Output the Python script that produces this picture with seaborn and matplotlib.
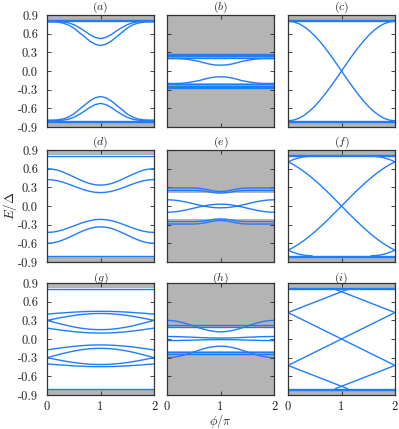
import matplotlib
matplotlib.use("Agg")
import matplotlib.pyplot as plt
import seaborn as sns
import numpy as np
import pandas as pd

# ---------------- data ----------------
phi = [0.0, 0.1, 0.2, 0.3, 0.4, 0.5, 0.6, 0.7, 0.8, 0.9, 1.0,
       1.1, 1.2, 1.3, 1.4, 1.5, 1.6, 1.7, 1.8, 1.9, 2.0]

yticks = [-0.9, -0.6, -0.3, 0.0, 0.3, 0.6, 0.9]
yticklabels = ["-0.9", "-0.6", "-0.3", "0.0", "0.3", "0.6", "0.9"]
xticks = [0, 1, 2]
xticklabels = ["0", "1", "2"]
panel_labels = ["a", "b", "c", "d", "e", "f", "g", "h", "i"]
gaps = [0.82, 0.195, 0.82, 0.815, 0.21, 0.82, 0.815, 0.20, 0.82]

# (a)
a_levels = [0.80, 0.815, -0.80, -0.815]
a_up_deep = [0.79, 0.79, 0.785, 0.77, 0.74, 0.69, 0.62, 0.55, 0.48, 0.43, 0.41,
             0.43, 0.48, 0.55, 0.62, 0.69, 0.74, 0.77, 0.785, 0.79, 0.79]
a_up_shal = [0.795, 0.795, 0.795, 0.79, 0.775, 0.745, 0.70, 0.645, 0.585, 0.54, 0.52,
             0.54, 0.585, 0.645, 0.70, 0.745, 0.775, 0.79, 0.795, 0.795, 0.795]
a_dn_deep = [-0.79, -0.79, -0.785, -0.77, -0.74, -0.69, -0.62, -0.55, -0.48, -0.43, -0.41,
             -0.43, -0.48, -0.55, -0.62, -0.69, -0.74, -0.77, -0.785, -0.79, -0.79]
a_dn_shal = [-0.795, -0.795, -0.795, -0.79, -0.775, -0.745, -0.70, -0.645, -0.585, -0.54, -0.52,
             -0.54, -0.585, -0.645, -0.70, -0.745, -0.775, -0.79, -0.795, -0.795, -0.795]

# (b)
b_levels = [0.27, 0.255, 0.235, 0.215, -0.27, -0.255, -0.235, -0.215]
b_up_dip = [0.20, 0.20, 0.20, 0.195, 0.185, 0.17, 0.155, 0.13, 0.11, 0.097, 0.093,
            0.097, 0.11, 0.13, 0.155, 0.17, 0.185, 0.195, 0.20, 0.20, 0.20]
b_dn_dip = [-0.20, -0.20, -0.20, -0.195, -0.185, -0.17, -0.155, -0.13, -0.11, -0.097, -0.093,
            -0.097, -0.11, -0.13, -0.155, -0.17, -0.185, -0.195, -0.20, -0.20, -0.20]

# (c)
c_levels = [0.80, 0.815, -0.80, -0.815]
c_cross1 = [0.80, 0.79, 0.761, 0.713, 0.647, 0.566, 0.47, 0.363, 0.247, 0.125, 0.0,
            -0.125, -0.247, -0.363, -0.47, -0.566, -0.647, -0.713, -0.761, -0.79, -0.80]
c_cross2 = [-0.80, -0.79, -0.761, -0.713, -0.647, -0.566, -0.47, -0.363, -0.247, -0.125, 0.0,
            0.125, 0.247, 0.363, 0.47, 0.566, 0.647, 0.713, 0.761, 0.79, 0.80]

# (d)
d_levels = [0.81, -0.81]
d_up_out = [0.60, 0.593, 0.575, 0.545, 0.508, 0.468, 0.427, 0.39, 0.36, 0.341, 0.335,
            0.341, 0.36, 0.39, 0.427, 0.468, 0.508, 0.545, 0.575, 0.593, 0.60]
d_up_in = [0.425, 0.42, 0.405, 0.382, 0.352, 0.32, 0.288, 0.258, 0.235, 0.22, 0.215,
           0.22, 0.235, 0.258, 0.288, 0.32, 0.352, 0.382, 0.405, 0.42, 0.425]
d_dn_out = [-0.60, -0.593, -0.575, -0.545, -0.508, -0.468, -0.427, -0.39, -0.36, -0.341, -0.335,
            -0.341, -0.36, -0.39, -0.427, -0.468, -0.508, -0.545, -0.575, -0.593, -0.60]
d_dn_in = [-0.425, -0.42, -0.405, -0.382, -0.352, -0.32, -0.288, -0.258, -0.235, -0.22, -0.215,
           -0.22, -0.235, -0.258, -0.288, -0.32, -0.352, -0.382, -0.405, -0.42, -0.425]

# (e)
e_up1 = [0.29, 0.29, 0.29, 0.29, 0.29, 0.29, 0.285, 0.272, 0.255, 0.238, 0.232,
         0.238, 0.255, 0.272, 0.285, 0.29, 0.29, 0.29, 0.29, 0.29, 0.29]
e_up2 = [0.25, 0.25, 0.25, 0.25, 0.25, 0.25, 0.247, 0.24, 0.225, 0.212, 0.207,
         0.212, 0.225, 0.24, 0.247, 0.25, 0.25, 0.25, 0.25, 0.25, 0.25]
e_dn1 = [-0.29, -0.29, -0.29, -0.29, -0.29, -0.29, -0.285, -0.272, -0.255, -0.238, -0.232,
         -0.238, -0.255, -0.272, -0.285, -0.29, -0.29, -0.29, -0.29, -0.29, -0.29]
e_dn2 = [-0.25, -0.25, -0.25, -0.25, -0.25, -0.25, -0.247, -0.24, -0.225, -0.212, -0.207,
         -0.212, -0.225, -0.24, -0.247, -0.25, -0.25, -0.25, -0.25, -0.25, -0.25]
e_cross1 = [0.10, 0.097, 0.088, 0.073, 0.055, 0.035, 0.015, -0.003, -0.018, -0.027, -0.03,
            -0.027, -0.018, -0.003, 0.015, 0.035, 0.055, 0.073, 0.088, 0.097, 0.10]
e_cross2 = [-0.10, -0.097, -0.088, -0.073, -0.055, -0.035, -0.015, 0.003, 0.018, 0.027, 0.03,
            0.027, 0.018, 0.003, -0.015, -0.035, -0.055, -0.073, -0.088, -0.097, -0.10]

# (f)
f_levels = [0.80, 0.815, -0.80, -0.815]
f_cross1 = [0.71, 0.666, 0.613, 0.553, 0.487, 0.415, 0.338, 0.258, 0.173, 0.087, 0.0,
            -0.087, -0.173, -0.258, -0.338, -0.415, -0.487, -0.553, -0.613, -0.666, -0.71]
f_cross2 = [-0.71, -0.666, -0.613, -0.553, -0.487, -0.415, -0.338, -0.258, -0.173, -0.087, 0.0,
            0.087, 0.173, 0.258, 0.338, 0.415, 0.487, 0.553, 0.613, 0.666, 0.71]
f_arc_phi_l = [0.0, 0.1, 0.2, 0.3, 0.4, 0.45]
f_arc_phi_r = [2.0, 1.9, 1.8, 1.7, 1.6, 1.55]
f_arc_up = [0.71, 0.746, 0.773, 0.791, 0.799, 0.80]
f_arc_dn = [-0.71, -0.746, -0.773, -0.791, -0.799, -0.80]

# (g)
g_levels = [0.81, -0.81]
g_u1 = [0.40, 0.407, 0.414, 0.42, 0.426, 0.432, 0.436, 0.44, 0.443, 0.444, 0.445,
        0.444, 0.443, 0.44, 0.436, 0.432, 0.426, 0.42, 0.414, 0.407, 0.40]
g_u2 = [0.30, 0.317, 0.334, 0.35, 0.365, 0.378, 0.389, 0.398, 0.405, 0.409, 0.41,
        0.409, 0.405, 0.398, 0.389, 0.378, 0.365, 0.35, 0.334, 0.317, 0.30]
g_u3 = [0.30, 0.277, 0.254, 0.232, 0.212, 0.194, 0.179, 0.166, 0.157, 0.152, 0.15,
        0.152, 0.157, 0.166, 0.179, 0.194, 0.212, 0.232, 0.254, 0.277, 0.30]
g_u4 = [0.175, 0.163, 0.15, 0.139, 0.128, 0.118, 0.11, 0.104, 0.099, 0.096, 0.095,
        0.096, 0.099, 0.104, 0.11, 0.118, 0.128, 0.139, 0.15, 0.163, 0.175]
g_d1 = [-0.40, -0.407, -0.414, -0.42, -0.426, -0.432, -0.436, -0.44, -0.443, -0.444, -0.445,
        -0.444, -0.443, -0.44, -0.436, -0.432, -0.426, -0.42, -0.414, -0.407, -0.40]
g_d2 = [-0.30, -0.317, -0.334, -0.35, -0.365, -0.378, -0.389, -0.398, -0.405, -0.409, -0.41,
        -0.409, -0.405, -0.398, -0.389, -0.378, -0.365, -0.35, -0.334, -0.317, -0.30]
g_d3 = [-0.30, -0.277, -0.254, -0.232, -0.212, -0.194, -0.179, -0.166, -0.157, -0.152, -0.15,
        -0.152, -0.157, -0.166, -0.179, -0.194, -0.212, -0.232, -0.254, -0.277, -0.30]
g_d4 = [-0.175, -0.163, -0.15, -0.139, -0.128, -0.118, -0.11, -0.104, -0.099, -0.096, -0.095,
        -0.096, -0.099, -0.104, -0.11, -0.118, -0.128, -0.139, -0.15, -0.163, -0.175]

# (h)
h_levels = [0.23, 0.20, -0.21, -0.24]
h_dip = [0.30, 0.295, 0.282, 0.262, 0.236, 0.208, 0.179, 0.153, 0.133, 0.12, 0.115,
         0.12, 0.133, 0.153, 0.179, 0.208, 0.236, 0.262, 0.282, 0.295, 0.30]
h_rise = [-0.30, -0.295, -0.282, -0.262, -0.236, -0.208, -0.179, -0.153, -0.133, -0.12, -0.115,
          -0.12, -0.133, -0.153, -0.179, -0.208, -0.236, -0.262, -0.282, -0.295, -0.30]
h_mid1 = [0.04, 0.039, 0.038, 0.035, 0.031, 0.028, 0.024, 0.02, 0.017, 0.016, 0.015,
          0.016, 0.017, 0.02, 0.024, 0.028, 0.031, 0.035, 0.038, 0.039, 0.04]
h_mid2 = [-0.025, -0.025, -0.024, -0.022, -0.02, -0.018, -0.015, -0.013, -0.011, -0.01, -0.01,
          -0.01, -0.011, -0.013, -0.015, -0.018, -0.02, -0.022, -0.024, -0.025, -0.025]

# (i)
i_levels = [0.80, 0.815, -0.80, -0.815]
i_phi_l = [0.0, 0.2, 0.4, 0.6, 0.8, 1.0, 1.12]
i_phi_r = [2.0, 1.8, 1.6, 1.4, 1.2, 1.0, 0.88]
i_edge_up = [0.425, 0.492, 0.559, 0.626, 0.693, 0.76, 0.80]
i_edge_dn = [-0.425, -0.492, -0.559, -0.626, -0.693, -0.76, -0.80]
i_cross1 = [0.425, 0.383, 0.34, 0.298, 0.255, 0.213, 0.17, 0.128, 0.085, 0.043, 0.0,
            -0.043, -0.085, -0.128, -0.17, -0.213, -0.255, -0.298, -0.34, -0.383, -0.425]
i_cross2 = [-0.425, -0.383, -0.34, -0.298, -0.255, -0.213, -0.17, -0.128, -0.085, -0.043, 0.0,
            0.043, 0.085, 0.128, 0.17, 0.213, 0.255, 0.298, 0.34, 0.383, 0.425]

# curves per panel: list of (x, y)
curves = [
    [(phi, a_up_deep), (phi, a_up_shal), (phi, a_dn_deep), (phi, a_dn_shal)],
    [(phi, b_up_dip), (phi, b_dn_dip)],
    [(phi, c_cross1), (phi, c_cross2)],
    [(phi, d_up_out), (phi, d_up_in), (phi, d_dn_out), (phi, d_dn_in)],
    [(phi, e_up1), (phi, e_up2), (phi, e_dn1), (phi, e_dn2), (phi, e_cross1), (phi, e_cross2)],
    [(phi, f_cross1), (phi, f_cross2), (f_arc_phi_l, f_arc_up), (f_arc_phi_r, f_arc_up),
     (f_arc_phi_l, f_arc_dn), (f_arc_phi_r, f_arc_dn)],
    [(phi, g_u1), (phi, g_u2), (phi, g_u3), (phi, g_u4),
     (phi, g_d1), (phi, g_d2), (phi, g_d3), (phi, g_d4)],
    [(phi, h_dip), (phi, h_rise), (phi, h_mid1), (phi, h_mid2)],
    [(i_phi_l, i_edge_up), (i_phi_r, i_edge_up), (i_phi_l, i_edge_dn), (i_phi_r, i_edge_dn),
     (phi, i_cross1), (phi, i_cross2)],
]
levels = [a_levels, b_levels, c_levels, d_levels, [], f_levels, g_levels, h_levels, i_levels]

# ---------------- style ----------------
sns.set_style("ticks")
plt.rcParams.update({
    "font.family": "serif",
    "font.serif": ["cmr10", "DejaVu Serif"],
    "mathtext.fontset": "cm",
    "axes.unicode_minus": False,
    "axes.formatter.use_mathtext": True,
})

BLUE = "#1f7cff"
GRAY = "#b4b4b4"
FS = 9

W, H = 399, 429
col_x = [47, 167, 288]
row_y = [15, 150, 283]
pw, ph = 107, 112

fig = plt.figure(figsize=(W / 100, H / 100), dpi=100)

for k in range(9):
    r, c = divmod(k, 3)
    ax = fig.add_axes([col_x[c] / W, 1 - (row_y[r] + ph) / H, pw / W, ph / H])
    g = gaps[k]
    ax.axhspan(g, 0.9, color=GRAY, lw=0, zorder=0)
    ax.axhspan(-0.9, -g, color=GRAY, lw=0, zorder=0)
    for lv in levels[k]:
        sns.lineplot(x=phi, y=[lv] * len(phi), ax=ax, color=BLUE, lw=1.0,
                     estimator=None, sort=False, legend=False)
    for xs, ys in curves[k]:
        sns.lineplot(x=xs, y=ys, ax=ax, color=BLUE, lw=1.0,
                     estimator=None, sort=False, legend=False)
    ax.set_xlim(0, 2)
    ax.set_ylim(-0.9, 0.9)
    ax.set_xticks(xticks)
    ax.set_yticks(yticks)
    if c == 0:
        ax.set_yticklabels(yticklabels, fontsize=FS)
    else:
        ax.set_yticklabels([])
    if r == 2:
        ax.set_xticklabels(xticklabels, fontsize=FS)
    else:
        ax.set_xticklabels([])
    ax.tick_params(direction="in", length=3, width=0.6, top=True, right=True,
                   colors="#222222")
    ax.tick_params(axis="y", pad=6.5)
    ax.tick_params(axis="x", pad=4.0)
    for s in ax.spines.values():
        s.set_color("#333333")
        s.set_linewidth(0.9)
    ax.set_xlabel("")
    ax.set_ylabel("")
    ax.set_title("$(" + panel_labels[k] + ")$", fontsize=8.5, pad=1.5)
    if k == 3:
        ax.set_ylabel("$E/\\Delta$", fontsize=9.5, labelpad=-0.5)
    if k == 7:
        ax.set_xlabel("$\\phi/\\pi$", fontsize=9, labelpad=-0.5)

fig.savefig("out.png", dpi=100)
